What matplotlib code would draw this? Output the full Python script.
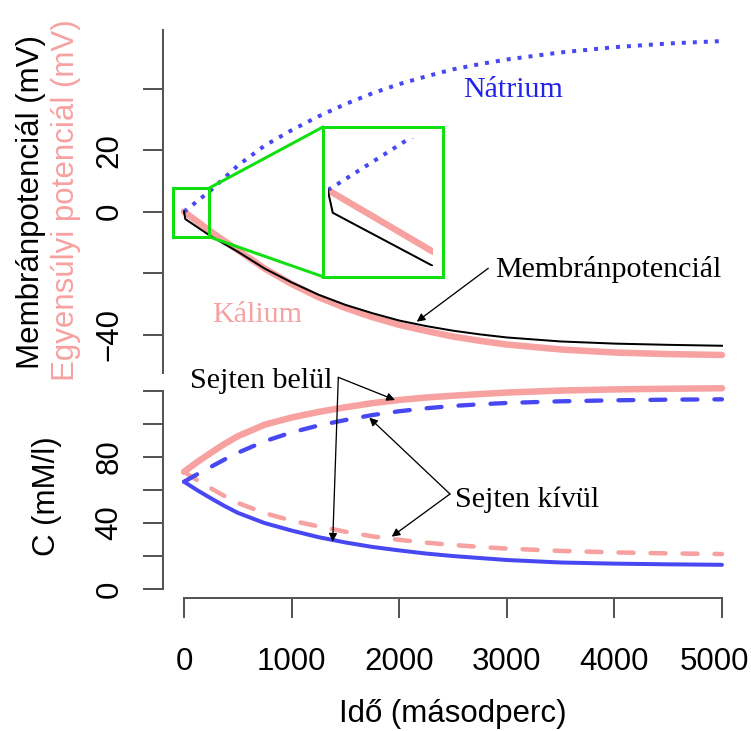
import numpy as np
import matplotlib
matplotlib.use("Agg")
import matplotlib.pyplot as plt
import matplotlib.transforms as mtransforms
from matplotlib.patches import Rectangle

# Idő (s) – felső panel (potenciálok)
ido = np.array([0, 12, 250, 500, 750, 1000, 1250, 1500, 1750, 2000,
                2250, 2500, 2750, 3000, 3500, 4000, 4500, 5000])
natrium = np.array([0, 0.3, 7, 15, 21.5, 26.5, 31, 35, 38.5, 41.5,
                    44, 46.3, 48, 49.5, 51.8, 53.5, 54.7, 55.5])
kalium = np.array([0, -0.3, -6.5, -12.5, -18.5, -23.5, -27.8, -31.3, -34.3, -36.8,
                   -38.8, -40.6, -42, -43.2, -44.8, -45.8, -46.3, -46.6])
membran = np.array([0, -2.4, -8, -13, -18.5, -23, -27, -30.3, -33, -35.4,
                    -37.2, -38.7, -39.9, -40.9, -42.2, -42.9, -43.3, -43.6])

# Idő (s) – alsó panel (koncentrációk, mM/l)
ido_c = np.array([0, 125, 250, 375, 500, 750, 1000, 1250, 1500, 1750, 2000,
                  2250, 2500, 2750, 3000, 3500, 4000, 4500, 5000])
k_belul = np.array([71, 77, 82.5, 87.8, 92.5, 99.5, 103.8, 107.2, 110, 112.5, 114.4,
                    115.9, 117, 118, 118.9, 120.1, 120.8, 121.2, 121.5])
k_kivul = np.array([71, 65.8, 61, 56.4, 52.2, 46, 41.5, 38, 34.8, 32, 29.9,
                    28.2, 26.8, 25.6, 24.6, 23.2, 22.3, 21.7, 21.3])
na_belul = np.array([65, 59.8, 55, 50.4, 46.2, 40, 35.5, 31.5, 28.3, 25.6, 23.5,
                     21.6, 20.1, 18.9, 17.7, 16.2, 15.5, 15.1, 14.8])
na_kivul = np.array([65, 69.6, 74, 78.4, 82.5, 89.5, 94.8, 99, 102.3, 105.3, 107.6,
                     109.4, 110.8, 111.8, 112.6, 113.6, 114.2, 114.6, 114.8])

x_ticks = [0, 1000, 2000, 3000, 4000, 5000]
y1_ticks = [-40, -20, 0, 20, 40]
y1_labels = ["\u221240", "", "0", "20", ""]
y2_ticks = [0, 20, 40, 60, 80, 100, 120]
y2_labels = ["0", "", "40", "", "80", "", ""]

PX = 0.72  # pont / pixel (dpi=100)
BLUE = "#4848F2"
BLUE_TEXT = "#2424E8"
PINK = "#F7A1A1"
GREEN = "#10E010"
AXC = "#555555"
SANS = "Liberation Sans"
SERIF = "Liberation Serif"
FS = 22.5
FS_SERIF = 21.6

W, H = 751, 731
fig = plt.figure(figsize=(W / 100, H / 100), dpi=100)


def box(l, t, r, b):
    return [l / W, 1 - b / H, (r - l) / W, (b - t) / H]


ax1 = fig.add_axes(box(162.5, 30, 743.5, 373))
ax2 = fig.add_axes(box(162.5, 376, 743.5, 598.3))

for ax in (ax1, ax2):
    ax.set_xlim(-200, 5200)
    ax.patch.set_visible(False)
    for s in ("top", "right"):
        ax.spines[s].set_visible(False)
    for s in ("left", "bottom"):
        ax.spines[s].set_color(AXC)
        ax.spines[s].set_linewidth(2 * PX)
    ax.tick_params(axis="y", length=20 * PX, width=2 * PX, color=AXC,
                   labelsize=FS, pad=13)
    ax.tick_params(axis="x", length=19.5 * PX, width=2 * PX, color=AXC,
                   labelsize=FS, pad=21)

# felső panel
ax1.set_ylim(-52.46, 59.09)
ax1.spines["bottom"].set_visible(False)
ax1.set_xticks([])
ax1.set_yticks(y1_ticks, y1_labels)

ax1.plot(ido, kalium, color=PINK, lw=6.5 * PX, solid_capstyle="round")
ax1.plot(ido, natrium, color=BLUE, lw=4 * PX, ls=(0, (1, 1.75)),
         dash_capstyle="butt")
ax1.plot(ido, membran, color="black", lw=2 * PX)

# nagyítás
ax1.add_patch(Rectangle((-107, -8.2), 342, 15.9, fill=False, ec=GREEN,
                        lw=3 * PX, zorder=5))
ax1.add_patch(Rectangle((1289, -21.1), 1115, 48.6, fill=False, ec=GREEN,
                        lw=3 * PX, zorder=5))
ax1.plot([235, 1289], [7.7, 27.5], color=GREEN, lw=3 * PX)
ax1.plot([235, 1289], [-8.2, -21.1], color=GREEN, lw=3 * PX)

ins = ax1.inset_axes([1335.5, -17.66, 978.5, 41.63], transform=ax1.transData)
ins.axis("off")
ins.set_xlim(0, 250)
ins.set_ylim(-8, 5.47)
m = ido <= 250
ins.plot(ido[m], kalium[m], color=PINK, lw=6.5 * PX, solid_capstyle="round")
ins.plot(ido[m], natrium[m], color=BLUE, lw=4 * PX, ls=(0, (1, 1.75)),
         dash_capstyle="butt")
ins.plot(ido[m], membran[m], color="black", lw=2 * PX)

ax1.text(3058, 37.3, "Nátrium", color=BLUE_TEXT, ha="center", va="baseline",
         family=SERIF, size=FS_SERIF)
ax1.text(676, -35.8, "Kálium", color=PINK, ha="center", va="baseline",
         family=SERIF, size=FS_SERIF)
ax1.text(3948, -21.3, "Membránpotenciál", color="black", ha="center",
         va="baseline", family=SERIF, size=FS_SERIF)
arr = dict(arrowstyle="-|>", lw=1.3 * PX, color="black", shrinkA=0, shrinkB=0,
           mutation_scale=12)
ax1.annotate("", xy=(2163, -35.77), xytext=(2828, -18.4), arrowprops=arr,
             annotation_clip=False)

# alsó panel
ax2.set_ylim(-5.44, 128.9)
ax2.spines["left"].set_bounds(0, 120)
ax2.spines["bottom"].set_bounds(0, 5000)
ax2.set_yticks(y2_ticks, y2_labels)
ax2.set_xticks(x_ticks, [str(v) for v in x_ticks])

ax2.plot(ido_c, k_belul, color=PINK, lw=6.5 * PX, solid_capstyle="round")
ax2.plot(ido_c, k_kivul, color=PINK, lw=4.5 * PX, ls=(0, (15 / 4.5, 17 / 4.5)),
         dash_capstyle="round")
ax2.plot(ido_c, na_kivul, color=BLUE, lw=4.3 * PX, ls=(0, (15 / 4.3, 17 / 4.3)),
         dash_capstyle="round")
ax2.plot(ido_c, na_belul, color=BLUE, lw=4 * PX, solid_capstyle="round")

ax2.text(722, 121.5, "Sejten belül", ha="center", va="baseline",
         family=SERIF, size=FS_SERIF)
ax2.text(3193, 49.9, "Sejten kívül", ha="center", va="baseline",
         family=SERIF, size=FS_SERIF)
for tip in [(1961, 114.4), (1382, 28.8)]:
    ax2.annotate("", xy=tip, xytext=(1434, 128.1), arrowprops=arr,
                 annotation_clip=False)
for tip in [(1722, 103.7), (1930, 31.8)]:
    ax2.annotate("", xy=tip, xytext=(2472, 57.6), arrowprops=arr,
                 annotation_clip=False)

for ax in (ax1, ax2):
    for lab in ax.get_yticklabels():
        lab.set_rotation(90)
        lab.set_va("center")
        lab.set_family(SANS)
    for lab in ax.get_xticklabels():
        lab.set_family(SANS)

# az utolsó x-felirat kicsit balra, hogy ne lógjon ki
utolso = ax2.xaxis.get_major_ticks()[-1].label1
utolso.set_transform(utolso.get_transform()
                     + mtransforms.ScaledTranslation(-0.08, 0, fig.dpi_scale_trans))

fig.text(453 / W, 1 - 722 / H, "Idő (másodperc)", ha="center", va="baseline",
         family=SANS, size=FS)
fig.text(39.3 / W, 1 - 202 / H, "Membránpotenciál (mV)", rotation=90,
         rotation_mode="anchor", ha="center", va="baseline", family=SANS, size=FS)
fig.text(74 / W, 1 - 200 / H, "Egyensúlyi potenciál (mV)", rotation=90,
         rotation_mode="anchor", ha="center", va="baseline", family=SANS,
         size=FS, color=PINK)
fig.text(55 / W, 1 - 496 / H, "C (mM/l)", rotation=90, rotation_mode="anchor",
         ha="center", va="baseline", family=SANS, size=FS)

fig.savefig("out.png", dpi=100)
